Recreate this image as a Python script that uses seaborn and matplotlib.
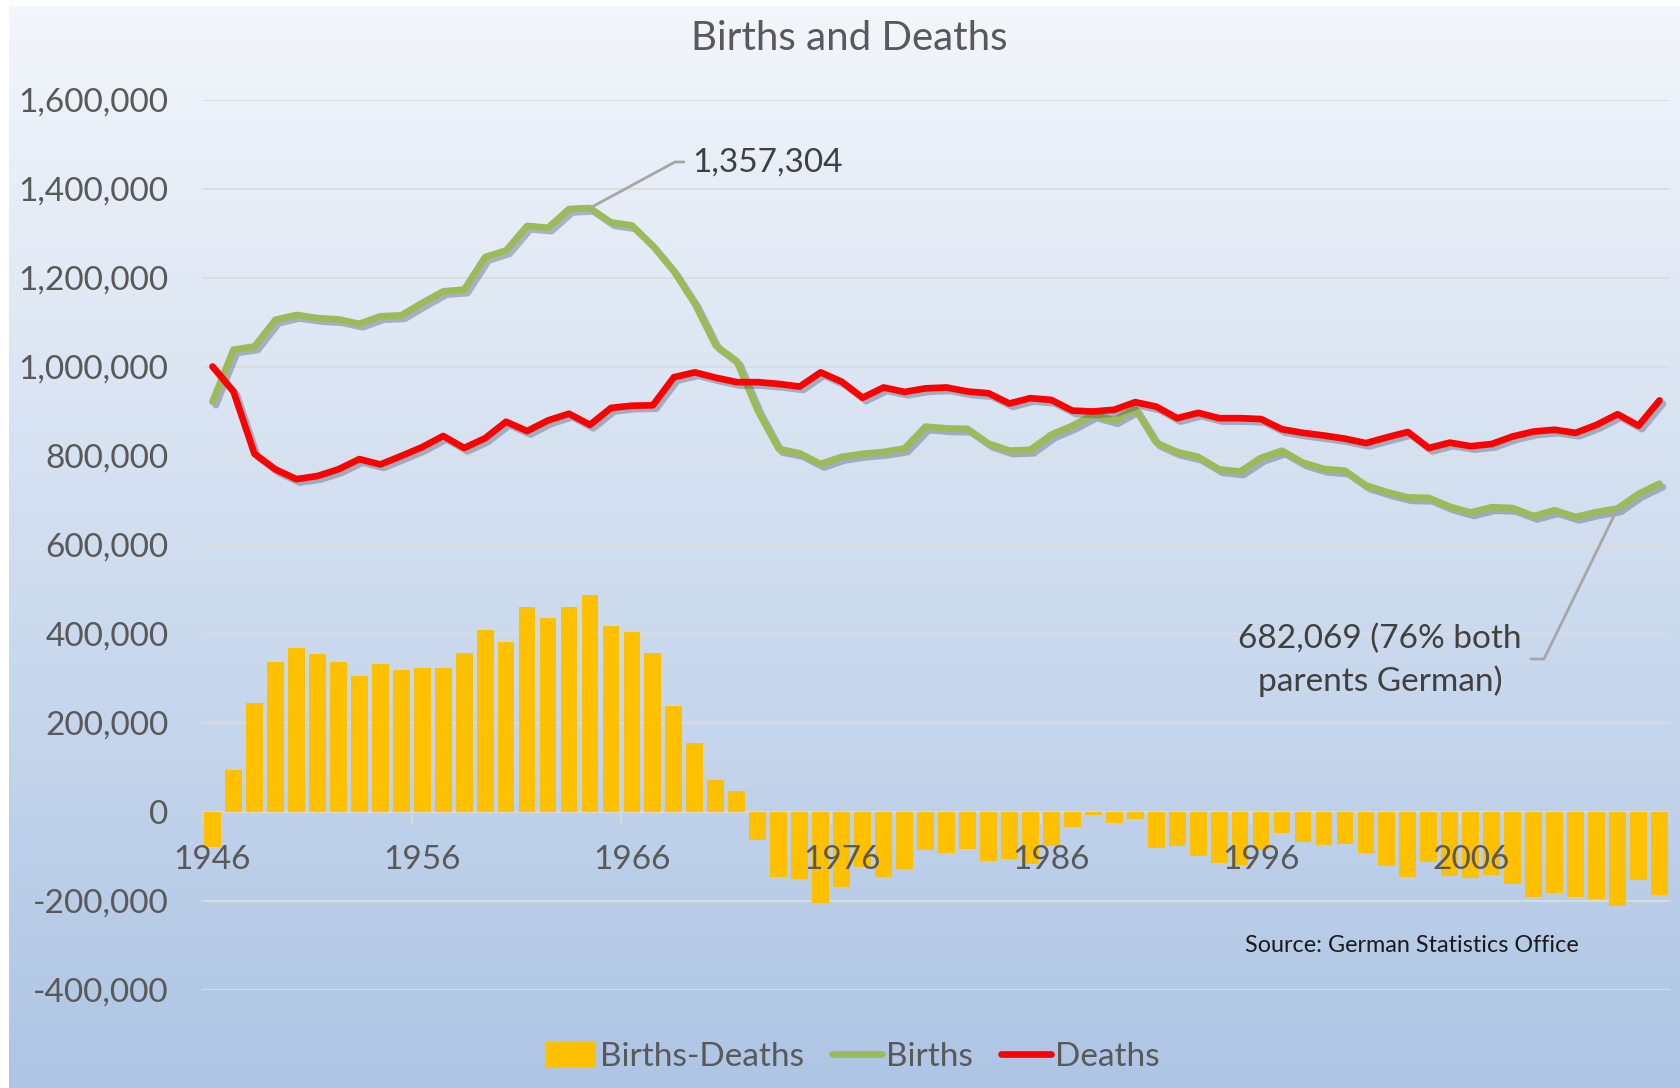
import numpy as np
import pandas as pd
import matplotlib
matplotlib.use("Agg")
import matplotlib.pyplot as plt
import matplotlib.patheffects as pe
from matplotlib.patches import Patch
from matplotlib.lines import Line2D
from matplotlib.ticker import FuncFormatter
import seaborn as sns

# data (German births / deaths per year)
years = list(range(1946, 2016))

births = [922000, 1039000, 1046000, 1106000, 1117000, 1110000, 1107000, 1097000, 1114000, 1116000,
          1144000, 1170000, 1174000, 1247000, 1262000, 1317000, 1313000, 1355000, 1357304, 1325000,
          1318000, 1272000, 1215000, 1142000, 1048000, 1013000, 902000, 816000, 806000, 782000,
          798000, 805000, 809000, 817000, 866000, 862000, 861000, 828000, 812000, 814000,
          848000, 868000, 893000, 880000, 906000, 830000, 809000, 798000, 770000, 765000,
          796000, 812000, 785000, 771000, 767000, 734000, 719000, 707000, 706000, 686000,
          673000, 685000, 683000, 665000, 678000, 663000, 674000, 682069, 715000, 738000]

deaths = [1001000, 945000, 805000, 770000, 748000, 755000, 770000, 793000, 781000, 800000,
          820000, 845000, 818000, 840000, 877000, 856000, 880000, 895000, 870000, 908000,
          913000, 914000, 977000, 988000, 976000, 966000, 966000, 962000, 956000, 988000,
          967000, 931000, 954000, 944000, 952000, 954000, 945000, 941000, 918000, 930000,
          926000, 902000, 900000, 904000, 921000, 911000, 885000, 897000, 885000, 885000,
          883000, 860000, 852000, 846000, 839000, 829000, 842000, 854000, 818000, 830000,
          822000, 827000, 844000, 855000, 859000, 852000, 870000, 894000, 868000, 925000]

gap = [-79000, 94000, 245000, 336000, 368000, 355000, 336000, 305000, 333000, 318000,
       324000, 324000, 358000, 408000, 383000, 461000, 437000, 461000, 487000, 417000,
       405000, 358000, 239000, 154000, 73000, 47000, -64000, -145000, -150000, -205000,
       -168000, -123000, -145000, -127000, -86000, -92000, -83000, -111000, -105000, -116000,
       -77000, -33000, -7000, -24000, -15000, -80000, -77000, -99000, -114000, -119000,
       -86000, -48000, -67000, -75000, -71000, -93000, -121000, -146000, -112000, -143000,
       -149000, -142000, -162000, -190000, -181000, -190000, -196000, -212000, -153000, -187000]

tick_years = [1946, 1956, 1966, 1976, 1986, 1996, 2006]

df = pd.DataFrame({"year": years, "births": births, "deaths": deaths, "gap": gap})
df["pos"] = np.arange(len(df))

BAR = "#FFC000"
GREEN = "#9BBB59"
RED = "#FF0000"
GREY = "#595959"
FS = 24

sns.set_style("white")
plt.rcParams["font.family"] = ["Lato", "DejaVu Sans"]

W, H = 1681, 1088
fig = plt.figure(figsize=(W / 100, H / 100), dpi=100)
fig.patch.set_facecolor("white")

# gradient background of the chart area
bg = fig.add_axes([9 / W, 0, 1 - 9 / W, 1 - 6 / H])
top = np.array([243, 246, 251]) / 255
bot = np.array([174, 197, 228]) / 255
t = np.linspace(0, 1, 256)[:, None]
grad = top + (bot - top) * t
bg.imshow(grad[:, None, :], aspect="auto", extent=[0, 1, 0, 1])
bg.set_axis_off()

ax = fig.add_axes([202 / W, 1 - 990 / H, (1670 - 202) / W, (990 - 100) / H])
ax.patch.set_alpha(0)

sns.barplot(data=df, x="pos", y="gap", color=BAR, width=0.8, saturation=1,
            native_scale=True, linewidth=0, edgecolor="none", ax=ax, zorder=3)

shadow = [pe.SimpleLineShadow(offset=(2.5, -2.5), shadow_color="#3a4a60", alpha=0.35),
          pe.Normal()]
sns.lineplot(data=df, x="pos", y="births", color=GREEN, linewidth=4.8, ax=ax, zorder=4,
             path_effects=shadow, solid_joinstyle="round", solid_capstyle="round")
sns.lineplot(data=df, x="pos", y="deaths", color=RED, linewidth=4.8, ax=ax, zorder=5,
             path_effects=shadow, solid_joinstyle="round", solid_capstyle="round")

ax.set_xlim(-0.5, len(years) - 0.5)
ax.set_ylim(-400000, 1600000)
ax.set_yticks(range(-400000, 1600001, 200000))
ax.yaxis.set_major_formatter(FuncFormatter(lambda v, p: f"{v:,.0f}"))
ax.tick_params(axis="y", length=0, pad=24, labelsize=FS, labelcolor=GREY)
ax.set_xticks([])
ax.set_xlabel("")
ax.set_ylabel("")
for s in ax.spines.values():
    s.set_visible(False)
ax.grid(axis="y", color="#DCDCDC", linewidth=1.3, zorder=0)
ax.set_axisbelow(True)

# category axis at zero
ax.axhline(0, color="#D9D9D9", linewidth=1.5, zorder=2)
for yr in tick_years + [2016]:
    i = yr - years[0]
    ax.plot([i - 0.5, i - 0.5], [0, -25000], color="#D9D9D9", linewidth=1.5, zorder=2)
for yr in tick_years:
    ax.text(yr - years[0], -107000, str(yr), ha="center", va="center",
            fontsize=FS, color=GREY, zorder=6)

fig.text(849 / W, 1 - 38 / H, "Births and Deaths", ha="center", va="center",
         fontsize=29, color=GREY)

# callouts
fig.canvas.draw()

def leader(i, val, pts):
    px, py = ax.transData.transform((i, val))
    xs = [px] + [p[0] for p in pts]
    ys = [py] + [H - p[1] for p in pts]
    fig.add_artist(Line2D([x / W for x in xs], [y / H for y in ys],
                          color="#A6A6A6", linewidth=2, zorder=10))

i_peak = births.index(1357304)
leader(i_peak, births[i_peak], [(675, 162), (684, 162)])
fig.text(692 / W, 1 - 163 / H, f"{births[i_peak]:,}", ha="left", va="center",
         fontsize=FS, color="#404040")

i_low = births.index(682069)
leader(i_low, births[i_low], [(1544, 659), (1531, 659)])
fig.text(1380 / W, 1 - 660 / H, f"{births[i_low]:,} (76% both\nparents German)",
         ha="center", va="center", fontsize=FS, color="#404040", linespacing=1.45)

fig.text(1412 / W, 1 - 945 / H, "Source: German Statistics Office", ha="center",
         va="center", fontsize=16.8, color="#1a1a1a")

handles = [Patch(facecolor=BAR, edgecolor="none"),
           Line2D([], [], color=GREEN, linewidth=4.8, solid_capstyle="round"),
           Line2D([], [], color=RED, linewidth=4.8, solid_capstyle="round")]
fig.legend(handles, ["Births-Deaths", "Births", "Deaths"], loc="center",
           bbox_to_anchor=(853 / W, 1 - 1057 / H), ncol=3, frameon=False,
           fontsize=FS, labelcolor=GREY, handlelength=1.5, handleheight=0.8,
           handletextpad=0.12, columnspacing=0.85)

fig.savefig("out.png", dpi=100)
